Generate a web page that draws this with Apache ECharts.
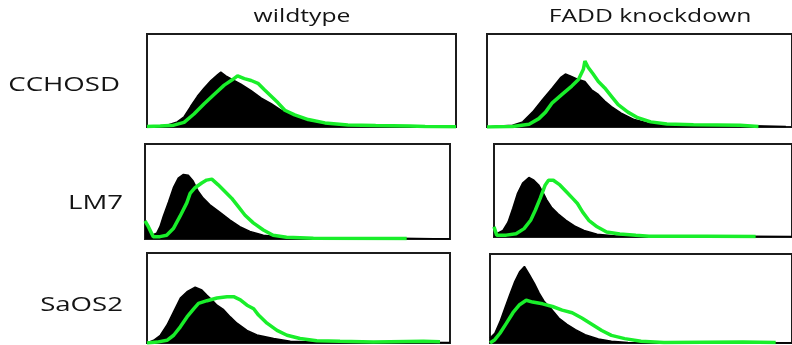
<!DOCTYPE html>
<html>
<head>
<meta charset="utf-8">
<script src="https://cdn.jsdelivr.net/npm/echarts@6/dist/echarts.min.js"></script>
<style>
html,body{margin:0;padding:0;background:#fff;}
#chart{width:792px;height:345px;}
</style>
</head>
<body>
<div id="chart"></div>
<script>
// Column and row labels
const columnLabels = ['wildtype', 'FADD knockdown'];
const rowLabels = ['CCHOSD', 'LM7', 'SaOS2'];

// Values: [channel position (% of panel width), count (% of panel height)]
// CCHOSD wildtype
const cchosdWtBlack = [[0,0],[4.3,1],[6.5,2],[9.8,5.5],[12,11],[14.1,22],[16.3,33],[18.5,42],[20.7,50],[22.8,56],[23.9,59],[25.5,55],[27.7,51],[30.4,46],[33.7,39],[37,31],[40.2,25],[43.5,18],[47.8,12],[52.2,6],[57.6,3],[63,1.5],[68.5,0.7],[78,1],[85,0.5],[100,0]];
const cchosdWtGreen = [[0,0.5],[4.3,1],[8.7,2],[12,5],[15.2,14],[18.5,25],[21.7,35],[25,45],[27.7,51],[29.3,55],[31.5,52],[33.7,50],[35.9,47],[38,40],[40.2,33],[42.4,26],[44.6,18],[47.8,13],[52.2,8],[57.6,4.4],[65,2.2],[74,1.5],[85,1],[90,0.5],[100,0.3]];
// CCHOSD FADD knockdown
const cchosdKdBlack = [[0,0],[4.1,1],[8.4,2],[11.7,5.5],[14.9,16],[18.1,29],[21.4,42],[24.1,53],[25.7,57],[27.3,55],[30,51],[32.1,49],[34.3,40],[36.5,35],[38.6,28],[40.8,22],[44,15],[48.3,8],[52.6,4.4],[58,2.5],[67.7,1.8],[75,2.5],[84,1.5],[98,0.5]];
const cchosdKdGreen = [[0,0],[8.4,0.5],[13.8,3],[17,9],[19.2,16],[21.4,26],[24.6,35],[27.8,44],[30,51],[31.6,62],[32.1,71],[33.2,64],[34.8,57],[36.5,49],[38.6,42],[40.8,33],[43,24],[46.2,16],[49.4,10],[53.7,5.5],[59,3.3],[67.7,2.5],[83,2],[89,0.5]];
// LM7 wildtype
const lm7WtBlack = [[0,18],[0.5,15],[2.2,4],[3.8,6],[4.9,13],[6,24],[7.7,39],[9.3,54],[10.9,64],[12.6,68],[14.2,67],[15.8,61],[17.5,50],[19.1,43],[21.3,36],[24.6,28],[27.9,20],[31.1,13],[34.4,8],[38.8,4],[44.3,2],[53,1],[71.6,0.7],[83.6,0.7],[100,0]];
const lm7WtGreen = [[0,19],[1.1,13],[2.7,2.5],[4.9,2.5],[7.1,4],[9.3,11],[11.5,24],[13.7,38],[14.8,48],[16.4,54],[18.6,59],[20.2,62],[21.9,63],[24,57],[26.2,50],[28.4,43],[30.6,34],[32.8,25],[35.5,17],[38.8,9.5],[42,4],[46.4,1.8],[55.2,0.7],[85.8,0.5]];
// LM7 FADD knockdown
const lm7KdBlack = [[0,5],[0.9,3.6],[3,7],[4.7,16],[6.3,31],[7.9,47],[9.6,58],[11.7,64],[13.4,61],[15,56],[16.6,47],[17.7,40],[19.3,32],[21.5,25],[24.2,18],[27,12],[30.2,7],[34.6,3],[41,1],[71.5,1],[100,0.5]];
const lm7KdGreen = [[0,11],[0.9,2],[4.1,2],[7.4,3.6],[10.1,9],[12.3,18],[13.9,29],[15.5,41.5],[17.2,56],[18.3,61],[19.9,61],[22.1,56],[24.2,49],[26.4,41.5],[28,36],[29.7,27],[31.8,18],[34.6,11],[37.8,5.4],[42.2,3.2],[47.6,1.8],[52,0.7],[71.5,0.7],[87.8,0.5]];
// SaOS2 wildtype
const saos2WtBlack = [[0,0],[2.2,3],[4.4,8.6],[6.6,20],[8.8,35],[11,50],[13.2,57],[15.9,62],[18.1,59],[19.8,53],[21.4,48],[23.1,42],[25.3,37],[27.5,29],[29.7,22],[33,14],[36.3,9],[41.8,5],[47.3,2],[55,1],[100,0.5]];
const saos2WtGreen = [[0,0],[3.3,1],[6.6,3],[8.8,8.6],[11,18],[13.2,29],[15.4,38],[17,44],[19.8,47],[23.1,50],[26.4,51.5],[28.6,51.5],[30.8,48],[33,42],[35.2,38],[36.8,31],[39.6,22],[42.9,14],[46.2,8.6],[50.5,5],[56,2.6],[63.7,1.9],[74.7,1],[91.2,1.9],[96.7,1.5]];
// SaOS2 FADD knockdown
const saos2KdBlack = [[0,5.6],[1.6,11],[3.3,24],[4.9,39],[6.5,54],[8.2,69],[9.8,80],[11.4,86],[13,77],[14.7,67],[16.3,56],[17.9,47],[20.1,39],[22.8,28],[25.5,21],[28.3,15],[31.5,9.4],[35.9,4.5],[40.2,1.9],[45.7,0.7],[100,0]];
const saos2KdGreen = [[0,0],[1.6,3.7],[3.3,11],[5.4,22],[7.6,34],[9.8,43],[12,48],[14.1,46],[17.4,44],[20.7,41],[23.9,37],[27.2,34],[30.4,28],[33.7,21],[37,14],[40.2,8.6],[44.6,4.9],[50,1.9],[57.6,0.7],[83.7,1.1],[94.6,0.7]];

const panels = [
  {black: cchosdWtBlack, green: cchosdWtGreen, left: 147, top: 34, width: 309, height: 93},
  {black: cchosdKdBlack, green: cchosdKdGreen, left: 487, top: 34, width: 309, height: 93},
  {black: lm7WtBlack, green: lm7WtGreen, left: 145, top: 144, width: 305, height: 95},
  {black: lm7KdBlack, green: lm7KdGreen, left: 494, top: 144, width: 307, height: 93},
  {black: saos2WtBlack, green: saos2WtGreen, left: 147, top: 253, width: 303, height: 90},
  {black: saos2KdBlack, green: saos2KdGreen, left: 490, top: 254, width: 309, height: 89}
];

const chart = echarts.init(document.getElementById('chart'), null, {renderer: 'canvas'});
const grids = [], xAxes = [], yAxes = [], series = [];
panels.forEach((p, i) => {
  grids.push({left: p.left, top: p.top, width: p.width, height: p.height, show: true,
    borderColor: '#1c1c1c', borderWidth: 2, backgroundColor: '#fff', containLabel: false});
  xAxes.push({type: 'value', gridIndex: i, min: 0, max: 100, show: false});
  yAxes.push({type: 'value', gridIndex: i, min: 0, max: 100, show: false});
  series.push({type: 'line', xAxisIndex: i, yAxisIndex: i, data: p.black, symbol: 'none',
    lineStyle: {color: '#000', width: 1.5}, areaStyle: {color: '#000', opacity: 1}, z: 2, silent: true});
  series.push({type: 'line', xAxisIndex: i, yAxisIndex: i, data: p.green, symbol: 'none',
    lineStyle: {color: '#19ee2a', width: 3.5}, z: 3, silent: true});
});

const font = '"Open Sans", sans-serif';
const textEl = (txt, x, y, sx, size, align) => ({
  type: 'text', x: x, y: y, scaleX: sx, z: 10,
  style: {text: txt, fill: '#141414', fontSize: size, fontFamily: font, align: align, verticalAlign: 'middle'}
});

chart.setOption({
  animation: false,
  backgroundColor: '#fff',
  grid: grids,
  xAxis: xAxes,
  yAxis: yAxes,
  series: series,
  graphic: [
    textEl(columnLabels[0], 302, 17, 1.3, 19, 'center'),
    textEl(columnLabels[1], 650, 17, 1.3, 19, 'center'),
    textEl(rowLabels[0], 120, 85, 1.38, 20, 'right'),
    textEl(rowLabels[1], 123, 203, 1.38, 20, 'right'),
    textEl(rowLabels[2], 123, 305, 1.38, 20, 'right')
  ]
});
</script>
</body>
</html>
